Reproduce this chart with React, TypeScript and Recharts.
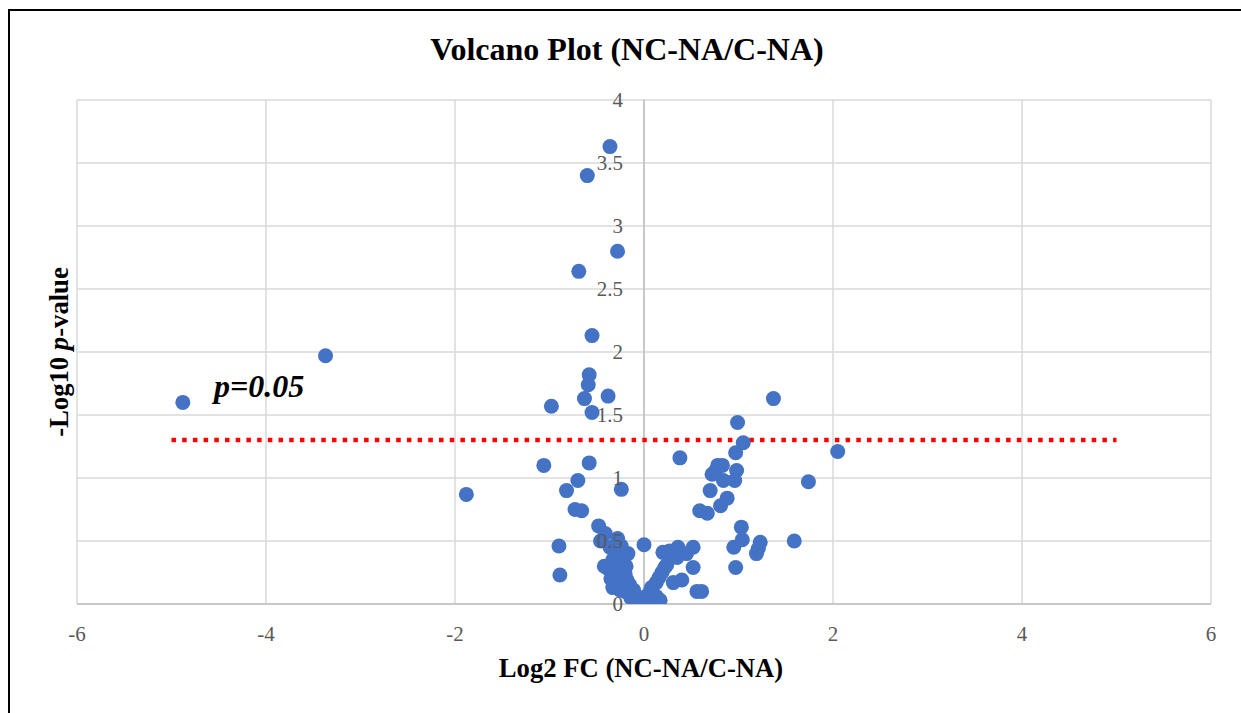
import React from 'react';
import { ScatterChart, Scatter, XAxis, YAxis, CartesianGrid, ReferenceLine } from 'recharts';

const log2FC = [
  -4.88, -3.37, -1.88, -1.06, -0.98, -0.9, -0.89, -0.82, -0.7, -0.73, -0.66,
  -0.36, -0.6, -0.28, -0.69, -0.55, -0.58, -0.59, -0.63, -0.38, -0.55, -0.58, -0.24,
  -0.48, -0.41, -0.46, -0.28, -0.17, -0.33, -0.38, -0.22, -0.3, -0.18, -0.33, -0.25,
  -0.11, -0.06, -0.15, -0.2, -0.27, -0.1, -0.03, 0.0, -0.36, -0.3, -0.24, 0.0,
  0.06, 0.13, 0.19, 0.24, 0.13, 0.17, 0.1, 0.04, 0.2, 0.36, 0.52, 0.45, 0.35, 0.22,
  0.52, 0.31, 0.4, 0.56, 0.61, 0.08, 0.16, 0.27, 0.38,
  0.7, 0.59, 0.67, 0.81, 0.88, 0.75, 0.83, 0.78, 0.98, 0.96, 0.72, 0.84, 0.97, 1.05,
  0.99, 1.37, 2.05, 1.74, 1.03, 1.04, 0.95, 0.97, 1.23, 1.19, 1.21, 1.59,
  -0.42, -0.14, 0.02, -0.2, -0.35, -0.26, -0.19,
];

const negLog10P = [
  1.6, 1.97, 0.87, 1.1, 1.57, 0.46, 0.23, 0.9, 0.98, 0.75, 0.74,
  3.63, 3.4, 2.8, 2.64, 2.13, 1.82, 1.74, 1.63, 1.65, 1.52, 1.12, 0.91,
  0.62, 0.56, 0.5, 0.52, 0.4, 0.35, 0.28, 0.29, 0.22, 0.19, 0.13, 0.11,
  0.11, 0.05, 0.15, 0.24, 0.33, 0.08, 0.02, 0.0, 0.45, 0.42, 0.46, 0.47,
  0.09, 0.17, 0.25, 0.31, 0.06, 0.03, 0.04, 0.02, 0.41, 0.45, 0.45, 0.4, 0.37, 0.29,
  0.29, 0.17, 0.19, 0.1, 0.1, 0.13, 0.21, 0.42, 1.16,
  0.9, 0.74, 0.72, 0.78, 0.84, 1.05, 1.1, 1.1, 1.06, 0.98, 1.03, 0.98, 1.2, 1.28,
  1.44, 1.63, 1.21, 0.97, 0.61, 0.51, 0.45, 0.29, 0.49, 0.4, 0.44, 0.5,
  0.3, 0.05, 0.06, 0.1, 0.2, 0.18, 0.3,
];

const xTicks = [-6, -4, -2, 0, 2, 4, 6];
const yTicks = [0, 0.5, 1, 1.5, 2, 2.5, 3, 3.5, 4];
const thresholdX = [-5, 5];
const thresholdY = 1.301;

const points = log2FC.map((x, i) => ({ x, y: negLog10P[i] }));

const SERIF = '"Liberation Serif", "Times New Roman", serif';

const renderYTick = (props: any) => {
  const { x, y, payload, index } = props;
  return (
    <text
      key={`yt-${index}`}
      x={x + 546}
      y={y}
      dy="0.35em"
      textAnchor="end"
      fill="#595959"
      fontSize={21}
      fontFamily={SERIF}
    >
      {String(payload.value)}
    </text>
  );
};

const renderXTick = (props: any) => {
  const { x, y, payload, index } = props;
  return (
    <text
      key={`xt-${index}`}
      x={x}
      y={y}
      dy="0.71em"
      textAnchor="middle"
      fill="#595959"
      fontSize={21}
      fontFamily={SERIF}
    >
      {String(payload.value)}
    </text>
  );
};

const Dot = (props: any) => <circle cx={props.cx} cy={props.cy} r={7.5} fill="#4472C4" />;

export default function App() {
  return (
    <div style={{ position: 'fixed', left: 0, top: 0, width: 1241, height: 713, overflow: 'hidden', background: '#fff' }}>
      <div
        style={{
          position: 'absolute',
          left: 8,
          top: 9,
          width: 1300,
          height: 800,
          border: '2px solid #000',
          boxSizing: 'border-box',
        }}
      />
      <div style={{ position: 'absolute', left: 0, top: 0 }}>
        <ScatterChart width={1241} height={713} margin={{ top: 100, right: 30, bottom: 79, left: 76 }}>
          <CartesianGrid stroke="#d9d9d9" strokeWidth={1.5} />
          <XAxis
            type="number"
            dataKey="x"
            domain={[-6, 6]}
            ticks={xTicks}
            interval={0}
            height={30}
            tickLine={false}
            tickSize={0}
            tickMargin={22}
            axisLine={{ stroke: '#bfbfbf', strokeWidth: 1.5 }}
            tick={renderXTick}
            allowDataOverflow
          />
          <Scatter data={points} shape={<Dot />} isAnimationActive={false} />
          <YAxis
            type="number"
            dataKey="y"
            domain={[0, 4]}
            ticks={yTicks}
            interval={0}
            width={1}
            axisLine={false}
            tickLine={false}
            tickSize={0}
            tickMargin={0}
            tick={renderYTick}
            allowDataOverflow
          />
          <ReferenceLine x={0} stroke="#bfbfbf" strokeWidth={1.5} />
          <ReferenceLine
            segment={[
              { x: thresholdX[0], y: thresholdY },
              { x: thresholdX[1], y: thresholdY },
            ]}
            stroke="#ff0000"
            strokeWidth={4.5}
            strokeDasharray="4.5 6.2"
          />
        </ScatterChart>
      </div>
      <svg
        width={1241}
        height={713}
        style={{ position: 'absolute', left: 0, top: 0, pointerEvents: 'none' }}
      >
        <text x={627} y={60} textAnchor="middle" fontFamily={SERIF} fontWeight="bold" fontSize={32} fill="#000">
          Volcano Plot (NC-NA/C-NA)
        </text>
        <text x={641} y={677} textAnchor="middle" fontFamily={SERIF} fontWeight="bold" fontSize={26.67} fill="#000">
          Log2 FC (NC-NA/C-NA)
        </text>
        <text
          transform="translate(68, 352) rotate(-90)"
          textAnchor="middle"
          fontFamily={SERIF}
          fontWeight="bold"
          fontSize={26.67}
          fill="#000"
        >
          -Log10 <tspan fontStyle="italic">p</tspan>-value
        </text>
        <text x={214} y={397} fontFamily={SERIF} fontWeight="bold" fontStyle="italic" fontSize={32} fill="#000">
          p=0.05
        </text>
      </svg>
    </div>
  );
}
